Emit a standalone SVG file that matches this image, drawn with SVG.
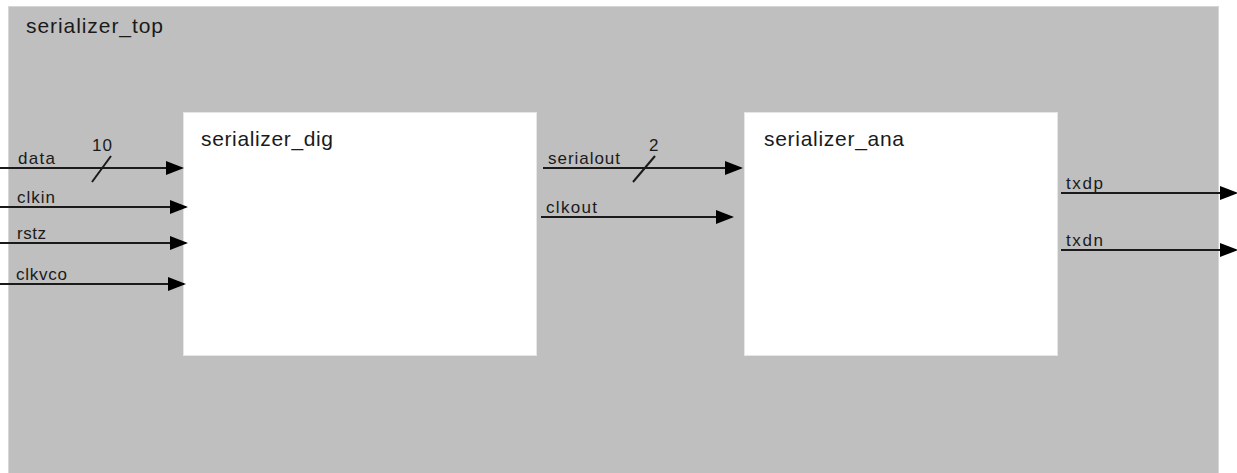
<svg xmlns="http://www.w3.org/2000/svg" width="1237" height="473" viewBox="0 0 1237 473">
<style>
.bg{fill:#bfbfbf;stroke:#d6d6d6;stroke-width:1}
.blk{fill:#ffffff;stroke:#e6e6e6;stroke-width:1}
.t{font-family:"Liberation Sans",Arial,sans-serif;fill:#1a1a1a}
.big{font-size:21px}
.lbl{font-size:17px}
.w{stroke:#1a1a1a;stroke-width:2;fill:none}
.ar{marker-end:url(#ah)}
</style>
<defs>
<marker id="ah" markerUnits="userSpaceOnUse" markerWidth="18" markerHeight="14" refX="16" refY="7" orient="auto">
<path d="M0,0 L18,7 L0,14 Z" fill="#000"/>
</marker>
</defs>
<g id="serializer_top">
<rect class="bg" x="8.5" y="6.5" width="1210" height="470"/>
<text class="t big" x="26" y="33" textLength="137" lengthAdjust="spacing">serializer_top</text>
</g>
<g id="serializer_dig">
<rect class="blk" x="183.5" y="112.5" width="353" height="243"/>
<text class="t big" x="201" y="146" textLength="132" lengthAdjust="spacing">serializer_dig</text>
</g>
<g id="serializer_ana">
<rect class="blk" x="744.5" y="112.5" width="313" height="243"/>
<text class="t big" x="764" y="146" textLength="140" lengthAdjust="spacing">serializer_ana</text>
</g>
<g id="connectors">
<line class="w ar" x1="0" y1="168" x2="182" y2="168"/>
<line class="w" x1="92" y1="182" x2="111" y2="156"/>
<text class="t lbl" x="18" y="164" textLength="37" lengthAdjust="spacing">data</text>
<text class="t lbl" x="92" y="151" textLength="20" lengthAdjust="spacing">10</text>
<line class="w ar" x1="0" y1="207" x2="186" y2="207"/>
<text class="t lbl" x="17" y="203" textLength="38" lengthAdjust="spacing">clkin</text>
<line class="w ar" x1="0" y1="243" x2="186" y2="243"/>
<text class="t lbl" x="17" y="239" textLength="29" lengthAdjust="spacing">rstz</text>
<line class="w ar" x1="0" y1="284" x2="184" y2="284"/>
<text class="t lbl" x="16" y="280" textLength="51" lengthAdjust="spacing">clkvco</text>
<line class="w ar" x1="543" y1="168" x2="741" y2="168"/>
<line class="w" x1="633" y1="182" x2="655" y2="156"/>
<text class="t lbl" x="548" y="164" textLength="72" lengthAdjust="spacing">serialout</text>
<text class="t lbl" x="649" y="151">2</text>
<line class="w ar" x1="541" y1="217" x2="732" y2="217"/>
<text class="t lbl" x="546" y="213" textLength="51" lengthAdjust="spacing">clkout</text>
<line class="w ar" x1="1061" y1="193" x2="1236" y2="193"/>
<text class="t lbl" x="1066" y="189" textLength="37" lengthAdjust="spacing">txdp</text>
<line class="w ar" x1="1061" y1="250" x2="1236" y2="250"/>
<text class="t lbl" x="1066" y="246" textLength="37" lengthAdjust="spacing">txdn</text>
</g>
</svg>
